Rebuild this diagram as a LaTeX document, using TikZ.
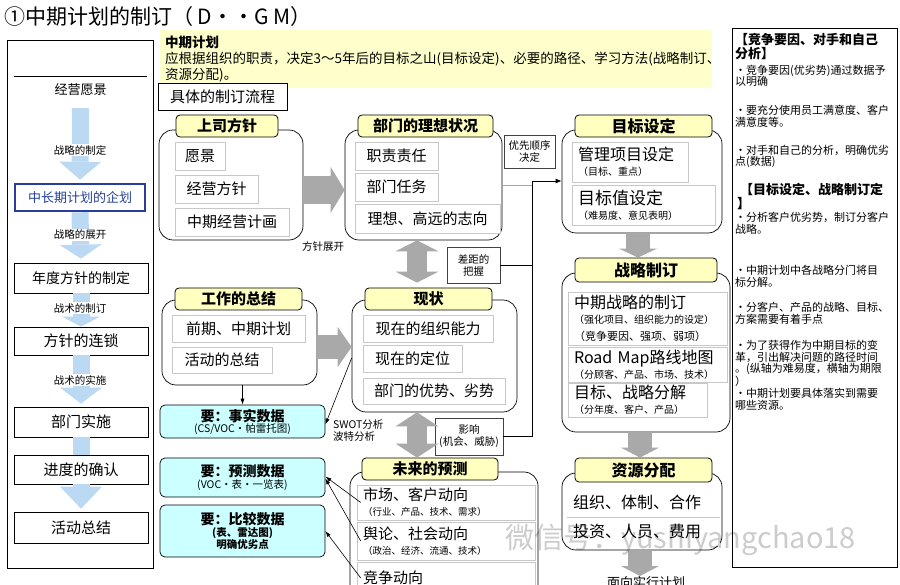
\documentclass[tikz,border=0pt]{standalone}
\usepackage{fontspec}
\setmainfont{Noto Sans CJK SC}
\usetikzlibrary{arrows.meta,calc}
\definecolor{hdryellow}{HTML}{FFFFC0}
\definecolor{bgyellow}{HTML}{FFFFCC}
\definecolor{cyanbg}{HTML}{CCFFFF}
\definecolor{itemgray}{HTML}{C8C8C8}
\definecolor{arrgray}{HTML}{A9A9A9}
\definecolor{arrblue}{HTML}{BCD9F3}
\definecolor{darkblue}{HTML}{2A3C9E}
\definecolor{txtblue}{HTML}{23409A}
\begin{document}
\begin{tikzpicture}[x=1pt,y=-1pt,
  grp/.style={draw=black, line width=0.7, rounded corners=14, fill=white, inner sep=0},
  hdr/.style={draw=black, line width=0.8, rounded corners=4, fill=hdryellow, inner sep=0,
     font=\bfseries\fontsize{15}{18}\selectfont},
  item/.style={draw=itemgray, line width=0.6, fill=white, inner sep=0, font=\fontsize{15}{18}\selectfont},
  ltitem/.style={item, align=left, inner xsep=6},
  cybox/.style={draw=black, line width=0.7, rounded corners=5, fill=cyanbg, inner sep=0, align=center},
  smbox/.style={draw=black!75, line width=0.5, fill=white, inner sep=0, align=center,
     font=\fontsize{10.5}{12}\selectfont},
  lbox/.style={draw=black, line width=0.7, fill=white, inner sep=0, font=\fontsize{14}{16}\selectfont},
  lbl/.style={fill=white, inner sep=1, font=\fontsize{10.5}{12}\selectfont},
  rt/.style={anchor=north west, inner sep=0, align=left, font=\fontsize{11}{11.5}\selectfont},
  blk/.style={line width=#1, draw=arrgray},
  bla/.style={line width=17, draw=arrblue},
  thin/.style={line width=0.6, -{Latex[length=6pt,width=4pt]}}
]
\useasboundingbox (0,0) rectangle (900,585);
\clip (0,0) rectangle (900,585);
\fill[white] (0,0) rectangle (900,585);

% title
\node[anchor=west, inner sep=0, font=\fontsize{21}{24}\selectfont] (title) at (4,17) {①中期计划的制订（ D··G M）};

% yellow description
\fill[bgyellow] (160,30) rectangle (712,88);
\node[anchor=north west, inner sep=0, align=left, font=\fontsize{13.5}{16}\selectfont] (desc) at (165,36)
 {\textbf{中期计划}\\应根据组织的职责，决定3～5年后的目标之山(目标设定)、必要的路径、学习方法(战略制订、\\资源分配)。};

% tab
\node[draw=black, line width=0.7, fill=white, minimum width=129, minimum height=27, inner sep=0,
  font=\fontsize{15}{18}\selectfont] (tab) at (222.5,96.5) {具体的制订流程};

% ---------------- left column ----------------
\draw[line width=0.7] (7,40) rectangle (153,568);
\node[minimum width=133, minimum height=26, inner sep=0, font=\fontsize{13}{15}\selectfont] (jy) at (80.5,90) {经营愿景};
\draw[line width=0.7] (jy.north west) -- (jy.north east);
\node[draw=darkblue, line width=2.6, fill=white, minimum width=130, minimum height=27, inner sep=0,
  text=txtblue, font=\fontsize{13}{15}\selectfont] (qh) at (80,197.5) {中长期计划的企划};
\node[lbox, minimum width=134, minimum height=30] (nd) at (81,278) {年度方针的制定};
\node[lbox, minimum width=134, minimum height=28, font=\fontsize{15}{18}\selectfont] (fz) at (81,341) {方针的连锁};
\node[lbox, minimum width=134, minimum height=30, font=\fontsize{15}{18}\selectfont] (bm) at (81,422) {部门实施};
\node[lbox, minimum width=134, minimum height=29, font=\fontsize{15}{18}\selectfont] (jd) at (81,469.5) {进度的确认};
\node[lbox, minimum width=134, minimum height=31, font=\fontsize{15}{18}\selectfont] (hd) at (81,527.5) {活动总结};

\draw[bla, -{Triangle[width=42pt,length=18pt,line width=0pt]}] ([yshift=-5pt]jy.south) -- ([yshift=3pt]qh.north);
\draw[bla, -{Triangle[width=42pt,length=14pt,line width=0pt]}] (qh.south) -- ([yshift=4pt]nd.north);
\draw[bla, -{Triangle[width=38pt,length=10pt,line width=0pt]}] (nd.south) -- (fz.north);
\draw[bla, -{Triangle[width=42pt,length=16pt,line width=0pt]}] (fz.south) -- ([yshift=3pt]bm.north);
\draw[bla] (bm.south) -- (jd.north);
\draw[bla, -{Triangle[width=42pt,length=22pt,line width=0pt]}] (jd.south) -- ([yshift=3pt]hd.north);
\node[lbl] (l1) at (80,150) {战略的制定};
\node[lbl] (l2) at (80,235) {战略的展开};
\node[lbl] (l3) at (80,308) {战术的制订};
\node[lbl] (l4) at (80,380) {战术的实施};

% ---------------- groups ----------------
% G1 上司方针
\node[grp, minimum width=144, minimum height=110] (g1) at (231,185) {};
\node[hdr, minimum width=102, minimum height=22] (h1) at (227,126) {上司方针};
\node[item, minimum width=50, minimum height=28] (i11) at (200,156) {愿景};
\node[item, minimum width=83, minimum height=28] (i12) at (216.5,189) {经营方针};
\node[item, minimum width=114, minimum height=28] (i13) at (232,222) {中期经营计画};

% G2 部门的理想状况
\node[grp, minimum width=157, minimum height=110] (g2) at (423.5,185) {};
\node[hdr, minimum width=135, minimum height=22] (h2) at (425.5,126) {部门的理想状况};
\node[item, minimum width=83, minimum height=28] (i21) at (396.5,156) {职责责任};
\node[item, minimum width=83, minimum height=28] (i22) at (396.5,187) {部门任务};
\node[item, minimum width=145, minimum height=29] (i23) at (427.5,218.5) {理想、高远的志向};

\node[smbox, minimum width=51, minimum height=33] (yx) at (529.5,151.5) {优先顺序\\决定};

% G3 工作的总结
\node[grp, minimum width=155, minimum height=85] (g3) at (239.5,342.5) {};
\node[hdr, minimum width=127, minimum height=22] (h3) at (238.5,299) {工作的总结};
\node[item, minimum width=133, minimum height=27] (i31) at (238.5,328.5) {前期、中期计划};
\node[item, minimum width=100, minimum height=26] (i32) at (222,360) {活动的总结};

% G4 现状
\node[grp, minimum width=165, minimum height=112] (g4) at (434.5,356) {};
\node[hdr, minimum width=127, minimum height=22] (h4) at (428.5,299) {现状};
\node[item, minimum width=130, minimum height=27] (i41) at (428,328.5) {现在的组织能力};
\node[item, minimum width=99, minimum height=27] (i42) at (412.5,358.5) {现在的定位};
\node[item, minimum width=142, minimum height=26] (i43) at (434,391) {部门的优势、劣势};

\node[smbox, minimum width=53, minimum height=36] (cj) at (473.5,265) {差距的\\把握};
\node[smbox, minimum width=68, minimum height=37] (yxg) at (469,436.5) {影响\\(机会、威胁)};
\node[anchor=west, inner sep=0, align=left, font=\fontsize{10.5}{12}\selectfont] (swot) at (333,431) {SWOT分析\\波特分析};
\node[anchor=center, inner sep=0, font=\fontsize{10.5}{12}\selectfont] (fzzk) at (323,247) {方针展开};

% cyan boxes
\node[cybox, minimum width=165, minimum height=33] (c1) at (242.5,421.5)
 {{\bfseries\fontsize{14}{15}\selectfont 要：事实数据}\\[-1pt]{\fontsize{10.5}{12}\selectfont (CS/VOC·帕雷托图)}};
\node[cybox, minimum width=165, minimum height=39] (c2) at (242.5,477.5)
 {{\bfseries\fontsize{14}{16}\selectfont 要：预测数据}\\{\fontsize{10.5}{12}\selectfont (VOC·表·一览表)}};
\node[cybox, minimum width=165, minimum height=52] (c3) at (242.5,531)
 {{\bfseries\fontsize{14}{16}\selectfont 要：比较数据}\\{\bfseries\fontsize{10.5}{12}\selectfont (表、雷达图)}\\{\bfseries\fontsize{10.5}{12}\selectfont 明确优劣点}};

% G5 未来的预测
\node[grp, minimum width=188, minimum height=140] (g5) at (444,542) {};
\node[hdr, minimum width=136, minimum height=22] (h5) at (430,469) {未来的预测};
\node[ltitem, text width=166, minimum height=35] (f1) at (446,502.5)
 {市场、客户动向\\[-3pt]{\fontsize{9.5}{11}\selectfont （行业、产品、技术、需求）}};
\node[ltitem, text width=166, minimum height=38] (f2) at (446,541)
 {舆论、社会动向\\[-3pt]{\fontsize{9.5}{11}\selectfont （政治、经济、流通、技术）}};
\node[ltitem, text width=166, minimum height=32] (f3) at (446,578) {竞争动向};

% G6 目标设定
\node[grp, minimum width=160, minimum height=103] (g6) at (642,181.5) {};
\node[hdr, minimum width=137, minimum height=22, font=\bfseries\fontsize{16}{18}\selectfont] (h6) at (643.5,126) {目标设定};
\node[ltitem, text width=104, minimum height=40, font=\fontsize{16}{18}\selectfont] (i61) at (630,162)
 {管理项目设定\\[-3pt]{\fontsize{10}{11}\selectfont （目标、重点）}};
\node[ltitem, text width=131, minimum height=40, font=\fontsize{17}{19}\selectfont] (i62) at (643.5,205)
 {目标值设定\\[-4pt]{\fontsize{10}{11}\selectfont （难易度、意见表明）}};

% G7 战略制订
\node[grp, minimum width=168, minimum height=159] (g7) at (646,352.5) {};
\node[hdr, minimum width=142, minimum height=24, font=\bfseries\fontsize{16}{18}\selectfont] (h7) at (646,270) {战略制订};
\node[ltitem, text width=147, minimum height=53, font=\fontsize{16}{18}\selectfont] (i71) at (647.5,318.5)
 {中期战略的制订\\[-3pt]{\fontsize{10}{12}\selectfont （强化项目、组织能力的设定）}\\[-1pt]{\fontsize{11}{12}\selectfont （竞争要因、强项、弱项）}};
\node[ltitem, text width=147, minimum height=35, font=\fontsize{16}{18}\selectfont] (i72) at (647.5,364.5)
 {Road Map路线地图\\[-3pt]{\fontsize{10}{11}\selectfont （分顾客、产品、市场、技术）}};
\node[ltitem, text width=127, minimum height=34, font=\fontsize{16}{18}\selectfont] (i73) at (637.5,400)
 {目标、战略分解\\[-3pt]{\fontsize{10}{11}\selectfont （分年度、客户、产品）}};

% G8 资源分配
\node[grp, minimum width=160, minimum height=77] (g8) at (642,511.5) {};
\node[hdr, minimum width=137, minimum height=24, font=\bfseries\fontsize{16}{18}\selectfont] (h8) at (643.5,470) {资源分配};
\node[ltitem, text width=141, minimum height=30, font=\fontsize{16}{18}\selectfont, draw=none] (i81) at (643.5,502) {组织、体制、合作};
\node[ltitem, text width=141, minimum height=28, font=\fontsize{16}{18}\selectfont, draw=none] (i82) at (643.5,531.5) {投资、人员、费用};
\draw[itemgray, line width=0.6] (i81.south west) -- (i81.south east);
\node[anchor=north, inner sep=0, font=\fontsize{13}{15}\selectfont] (mx) at (646,576) {面向实行计划};

% ---------------- block arrows ----------------
\draw[blk=28, -{Triangle[width=46pt,length=14pt,line width=0pt]}] ([yshift=-5pt]g1.east) -- ([yshift=-5pt]g2.west);
\draw[blk=24, -{Triangle[width=40pt,length=14pt,line width=0pt]}] ([yshift=-4.5pt]g3.east) -- (g4.west |- 0,347);
\draw[blk=20, {Triangle[width=43pt,length=11pt,line width=0pt]}-{Triangle[width=43pt,length=11pt,line width=0pt]}]
  (g2.south -| 417,0) -- ([yshift=5pt]h4.north -| 417,0);
\draw[blk=20, {Triangle[width=43pt,length=14pt,line width=0pt]}-{Triangle[width=43pt,length=14pt,line width=0pt]}]
  (g4.south -| 417,0) -- (h5.north -| 417,0);
\draw[blk=24, -{Triangle[width=38pt,length=9pt,line width=0pt]}] (g6.south -| 638,0) -- (h7.north -| 638,0);
\draw[blk=24, -{Triangle[width=38pt,length=10pt,line width=0pt]}] (g7.south -| 640,0) -- (h8.north -| 640,0);
\draw[blk=24, -{Triangle[width=38pt,length=10pt,line width=0pt]}] (g8.south -| 640,0) -- (mx.north -| 640,0);

% ---------------- thin connectors ----------------
\coordinate (J) at (532,181);
\draw[line width=0.6, black!35] (g2.east) -- (g2.east -| J);
\draw[line width=0.8] (cj.east) -- (cj.east -| J);
\draw[line width=0.8] (yxg.east) -- (yxg.east -| J) -- (J);
\draw[line width=0.8, -{Latex[length=6pt,width=5pt]}] (J) -- (g6.west |- J);

\draw[thin] (g3.south -| c1.north) -- (c1.north);
\draw[thin] (g4.west |- 0,358) -- ([yshift=-3pt]c1.east);
\draw[thin] ([xshift=4pt]f1.west) -- ([yshift=1pt]c2.east);
\draw[thin] ([xshift=4pt]f2.west) -- ([yshift=-1pt]c2.east);
\draw[thin] ([xshift=4pt]f3.west) -- (c3.east);

% ---------------- right column ----------------
\draw[line width=0.8] (732,28) rectangle (897,567);
\node[rt, font=\bfseries\fontsize{13}{14}\selectfont] (r1) at (735,33) {【竞争要因、对手和自己\\分析】};
\node[rt] (r2) at (735,65) {·竞争要因(优劣势)通过数据予\\以明确};
\node[rt] (r3) at (735,105) {·要充分使用员工满意度、客户\\满意度等。};
\node[rt] (r4) at (735,145) {·对手和自己的分析，明确优劣\\点(数据)};
\node[rt, font=\bfseries\fontsize{13}{14}\selectfont] (r5) at (737,183) {\ 【目标设定、战略制订定\\】};
\node[rt] (r6) at (735,212) {·分析客户优劣势，制订分客户\\战略。};
\node[rt] (r7) at (735,265) {·中期计划中各战略分门将目\\标分解。};
\node[rt] (r8) at (735,302) {·分客户、产品的战略、目标、\\方案需要有着手点};
\node[rt] (r9) at (735,340) {·为了获得作为中期目标的变\\革，引出解决问题的路径时间\\。(纵轴为难易度，横轴为期限\\）};
\node[rt] (r10) at (735,388) {·中期计划要具体落实到需要\\哪些资源。};

% watermark
\node[anchor=west, inner sep=0, text=black, opacity=0.2, font=\fontsize{29}{32}\selectfont] (wm) at (505,540) {微信号：yushiyangchao18};
\end{tikzpicture}
\end{document}
